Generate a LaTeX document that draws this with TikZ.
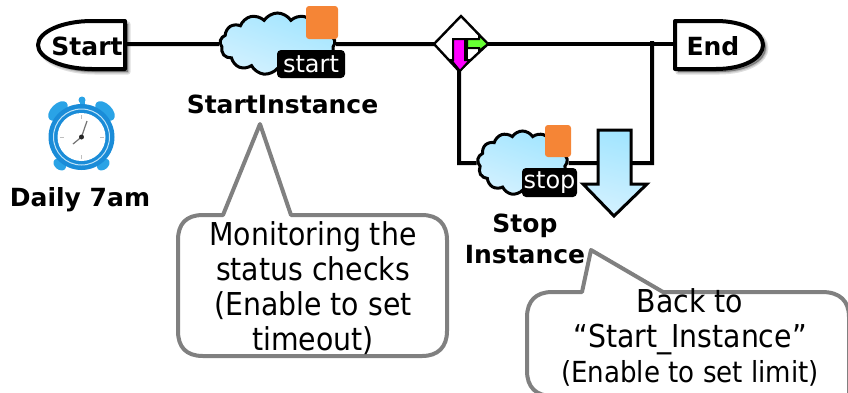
\documentclass[tikz,border=0pt]{standalone}
\usepackage{fontspec}
\setmainfont{DejaVu Sans}
\newfontfamily\condfont{DejaVu Sans Condensed}
\usetikzlibrary{shapes.symbols,backgrounds,calc}
\definecolor{cloudA}{HTML}{A2E5FF}
\definecolor{cloudB}{HTML}{D3F1FF}
\definecolor{tagorange}{HTML}{F58536}
\definecolor{callgray}{HTML}{808080}
\definecolor{clockblue}{HTML}{2AA3E6}
\definecolor{clockdark}{HTML}{1A8CD8}
\definecolor{limeg}{HTML}{66FF33}
\definecolor{puremag}{HTML}{FF00FF}
\tikzset{
  flow/.style={line width=4pt,black,line join=miter},
  cloudnode/.style={cloud,cloud puffs=13,cloud puff arc=115,cloud ignores aspect,draw=black,line width=3pt,
    top color=cloudA,bottom color=cloudB,shading angle=-20,inner sep=0pt},
  tagnode/.style={fill=black,text=white,rounded corners=4pt,inner sep=0pt,font=\fontsize{24}{24}\selectfont},
  orangenode/.style={fill=tagorange,rounded corners=3pt,inner sep=0pt},
  boldlabel/.style={font=\fontsize{25}{31}\bfseries\selectfont,align=center,inner sep=0pt},
  terminal/.style={font=\fontsize{25}{25}\bfseries\selectfont,inner sep=0pt},
  terminalline/.style={line width=4pt,draw=black,fill=white,line join=round},
  shadowpath/.style={draw=black,fill=black,opacity=0.13,line join=round},
  callout/.style={line width=4pt,draw=callgray,fill=white,line join=round},
  calltext/.style={font=\condfont\fontsize{31.5}{35}\selectfont,align=center,inner sep=0pt}
}
\begin{document}
\begin{tikzpicture}[x=1pt,y=-1pt]
\useasboundingbox (0,0) rectangle (848,392);
\clip (0,0) rectangle (848,392);
% junction coordinates
\coordinate (jtop) at (652,41);
\coordinate (jlow) at (652,163);
\coordinate (blow) at (459,163);
% clouds
\node[cloudnode,minimum width=115pt,minimum height=62pt] (cloudA) at (277.5,44) {};
\node[cloudnode,minimum width=90pt,minimum height=64pt] (cloudB) at (522.5,163) {};
\node[orangenode,minimum width=32pt,minimum height=33pt] (orangeA) at (322,22.5) {};
\node[orangenode,minimum width=26pt,minimum height=32pt] (orangeB) at (558,141) {};
\node[tagnode,minimum width=68pt,minimum height=28pt] (tagA) at (311,64) {start};
\node[tagnode,minimum width=55pt,minimum height=29pt] (tagB) at (549.5,182.5) {stop};
% terminal shadows
\foreach \w in {5,2.5,0.2}{
  \path[shadowpath,line width=\w pt] (128,24) -- (95,24) .. controls (65,24) and (41,35) .. (41,48) .. controls (41,61) and (65,72) .. (95,72) -- (128,72) -- cycle;
  \path[shadowpath,line width=\w pt] (678,24) -- (719,24) .. controls (747,24) and (766,35) .. (766,48) .. controls (766,61) and (747,72) .. (719,72) -- (678,72) -- cycle;
}
\draw[terminalline] (125,21) -- (92,21) .. controls (62,21) and (38,32) .. (38,45) .. controls (38,58) and (62,69) .. (92,69) -- (125,69) -- cycle;
\draw[terminalline] (675,21) -- (716,21) .. controls (744,21) and (763,32) .. (763,45) .. controls (763,58) and (744,69) .. (716,69) -- (675,69) -- cycle;
\node[terminal,anchor=center] (start) at (87,46) {Start};
\node[terminal,anchor=center] (end) at (713,46) {End};
\coordinate (startedge) at (125,44);
\coordinate (endedge) at (675,44);
% diamond
\coordinate (dN) at (461,16);
\coordinate (dE) at (488,44);
\coordinate (dS) at (459,71);
\coordinate (dW) at (434,44);
\draw[line width=2.4pt,fill=white,line join=miter] (dN) -- (dE) -- (dS) -- (dW) -- cycle;
% green arrow
\draw[line width=2pt,fill=limeg,line join=miter] (467,39) -- (479,39) -- (479,35) -- (488,44) -- (479,51) -- (479,48) -- (467,48) -- cycle;
\draw[line width=2pt] (467,39) -- (467,60);
% magenta arrow
\draw[line width=2pt,fill=puremag,line join=miter] (453,39) -- (465,39) -- (465,60) -- (470,60) -- (460,71) -- (451,60) -- (453,60) -- cycle;
% connectors
\begin{scope}[on background layer]
\draw[flow] (startedge) -- (cloudA.west);
\draw[flow] (cloudA.east) -- (dW);
\draw[flow] (dE) -- (endedge);
\draw[flow] (dS) -- (blow) -- (cloudB.west);
\draw[flow] (cloudB.east) -- (jlow) -- (jtop);
\end{scope}
% block arrow
\draw[line width=3pt,top color=cloudA,bottom color=cloudB,line join=miter,shading angle=-15]
  (598,130) -- (631,130) -- (631,184) -- (647,184) -- (614,216) -- (583,184) -- (598,184) -- cycle;
% labels
\node[boldlabel] (lblA) at (282.5,104) {StartInstance};
\node[boldlabel] (lblC) at (80,199.5) {Daily 7am};
\node[boldlabel,anchor=north] (lblB) at (525,213.5) {Stop\\Instance};
% clock
\begin{scope}
\coordinate (clk) at (81.5,137);
\fill[clockblue] (82,100) circle (3.5);
\fill[clockblue] (79.5,100) rectangle (84.5,107);
\fill[clockblue,rotate around={-45:(105,111)}] (105,111) ellipse (12 and 7);
\fill[clockblue,rotate around={45:(58,111)}] (58,111) ellipse (12 and 7);
\fill[clockblue,rotate around={40:(102,163)}] (102,165) ellipse (7 and 5);
\fill[clockblue,rotate around={-40:(61,163)}] (61,165) ellipse (7 and 5);
\fill[clockdark] (clk) circle (33);
\draw[white!70!clockblue,line width=1pt] (clk) circle (28);
\fill[white] (clk) circle (24);
\foreach \a in {0,90,180,270}{\draw[gray!50,line width=.6pt] ($(clk)+(\a:22)$) -- ($(clk)+(\a:18)$);}
\draw[gray!90!black,line width=1.2pt] (clk) -- (87,121);
\draw[gray!90!black,line width=1.2pt] (clk) -- (73,144);
\fill[black!85] (clk) circle (2.5);
\end{scope}
% callouts
\coordinate (tipA) at (260,124);
\coordinate (tipB) at (591,250);
\draw[callout] (178,240) .. controls (178,224) and (186,215) .. (203,215) -- (223,215) -- (tipA) -- (291,215) -- (422,215) .. controls (438,215) and (447,224) .. (447,240) -- (447,331) .. controls (447,347) and (438,356) .. (422,356) -- (203,356) .. controls (186,356) and (178,347) .. (178,331) -- cycle;
\node[calltext,anchor=north] (noteA) at (313,221.5) {Monitoring the\\status checks\\(Enable to set\\timeout)};
\draw[callout] (527,317) .. controls (527,301) and (536,292) .. (552,292) -- (582,292) -- (tipB) -- (663,292) -- (822,292) .. controls (840,292) and (849,301) .. (849,317) -- (849,396) -- (552,396) .. controls (536,396) and (527,387) .. (527,371) -- cycle;
\node[calltext,anchor=north] (noteB) at (690,288.5) {Back to\\“Start\_Instance”\\{\fontsize{29}{30}\selectfont (Enable to set limit)}};
\end{tikzpicture}
\end{document}
